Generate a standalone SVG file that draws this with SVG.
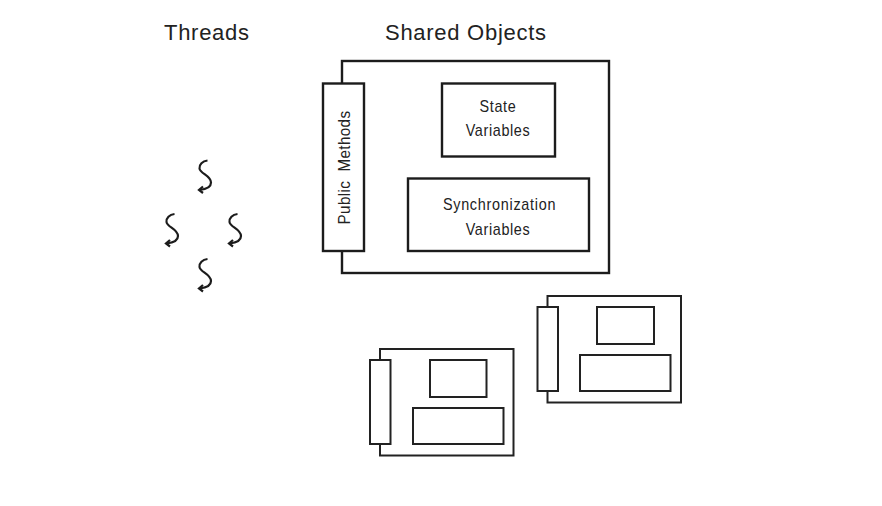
<svg xmlns="http://www.w3.org/2000/svg" width="882" height="506" viewBox="0 0 882 506">
<style>
.b{fill:#fff;stroke:#1c1c1c;stroke-width:2.400}
.s{fill:#fff;stroke:#222;stroke-width:2}
.h{font-family:"Liberation Sans",Arial,sans-serif;font-size:22px;letter-spacing:0.720px;fill:#222}
.t{font-family:"Liberation Sans",Arial,sans-serif;font-size:16px;fill:#222;text-anchor:middle}
.q{fill:none;stroke:#1c1c1c;stroke-width:2.200}
</style>
<defs>
<g id="thread">
<path class="q" d="M9 0C4 0.500 0.500 4 1 8C1.500 13 12.500 15 12.500 22C12.500 27 6 29 1 29.500"/>
<path class="q" d="M4.500 26L0.500 29.500L4.500 32.500"/>
</g>
</defs>
<rect width="882" height="506" fill="#fff"/>
<text class="h" x="164" y="39.500">Threads</text>
<text class="h" x="385" y="39.500">Shared Objects</text>
<g id="thread-top"><use href="#thread" x="198.500" y="160.500"/></g>
<g id="thread-left"><use href="#thread" x="165.500" y="214"/></g>
<g id="thread-right"><use href="#thread" x="228.500" y="214"/></g>
<g id="thread-bottom"><use href="#thread" x="198.500" y="259"/></g>
<g id="object-main">
<rect class="b" x="342" y="61" width="267" height="212"/>
<rect class="b" x="323" y="83.500" width="41" height="167.500"/>
<rect class="b" x="442" y="83.500" width="113" height="73"/>
<rect class="b" x="408" y="178.500" width="181" height="72.500"/>
<text class="t" transform="translate(349.500 167.500) rotate(-90) scale(0.95 1)" letter-spacing="0.400" xml:space="preserve">Public  Methods</text>
<text class="t" transform="translate(498 112) scale(0.9 1)" letter-spacing="0.700">State</text>
<text class="t" transform="translate(498 136) scale(0.9 1)" letter-spacing="0.700">Variables</text>
<text class="t" transform="translate(499.500 210) scale(0.9 1)" letter-spacing="0.800">Synchronization</text>
<text class="t" transform="translate(498 235) scale(0.9 1)" letter-spacing="0.700">Variables</text>
</g>
<g id="object-right">
<rect class="s" x="547.500" y="296" width="133.500" height="106.500"/>
<rect class="s" x="537.500" y="307" width="20.500" height="84"/>
<rect class="s" x="597" y="307" width="57" height="37"/>
<rect class="s" x="580" y="355" width="90.500" height="36"/>
</g>
<g id="object-left">
<rect class="s" x="380" y="349" width="133.500" height="106.500"/>
<rect class="s" x="370" y="360" width="20.500" height="84"/>
<rect class="s" x="430" y="360" width="56.500" height="37"/>
<rect class="s" x="413" y="408" width="90.500" height="36"/>
</g>
</svg>
